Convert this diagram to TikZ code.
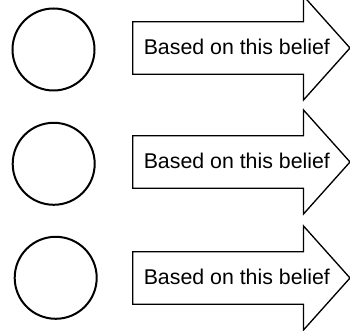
\documentclass[tikz,border=0pt]{standalone}
\usepackage{fontspec}
\setmainfont{Liberation Sans}
\newlength\unitpx
\setlength\unitpx{0.75pt}
\tikzset{
  every picture/.style={font=\fontsize{16}{19}\selectfont},
  belief circle/.style={draw=black, line width=1.5pt, circle, minimum size=82\unitpx, inner sep=0pt},
  belief arrow/.style={draw=black, line width=1pt, fill=white, line join=miter},
  belief text/.style={anchor=base west, inner sep=0pt}
}

\begin{document}
\begin{tikzpicture}[x=0.75pt,y=0.75pt]
  \useasboundingbox (0,0) rectangle (350,331);
  % one row per belief: circle centre, arrow axis
  \foreach \i/\cx/\cy/\ay in {1/53.5/281.5/283, 2/53.7/167.2/169, 3/55.7/53.2/53} {
    \node[belief circle] (circ\i) at (\cx,\cy) {};
    \draw[belief arrow] (132.7,\ay+26.2) -- (303.5,\ay+26.2) -- (303.5,\ay+52)
      -- (350,\ay) -- (303.5,\ay-52) -- (303.5,\ay-26.2) -- (132.7,\ay-26.2) -- cycle;
    \node[belief text] (lbl\i) at (143.5,\ay-7) {Based on this belief};
  }
\end{tikzpicture}
\end{document}
